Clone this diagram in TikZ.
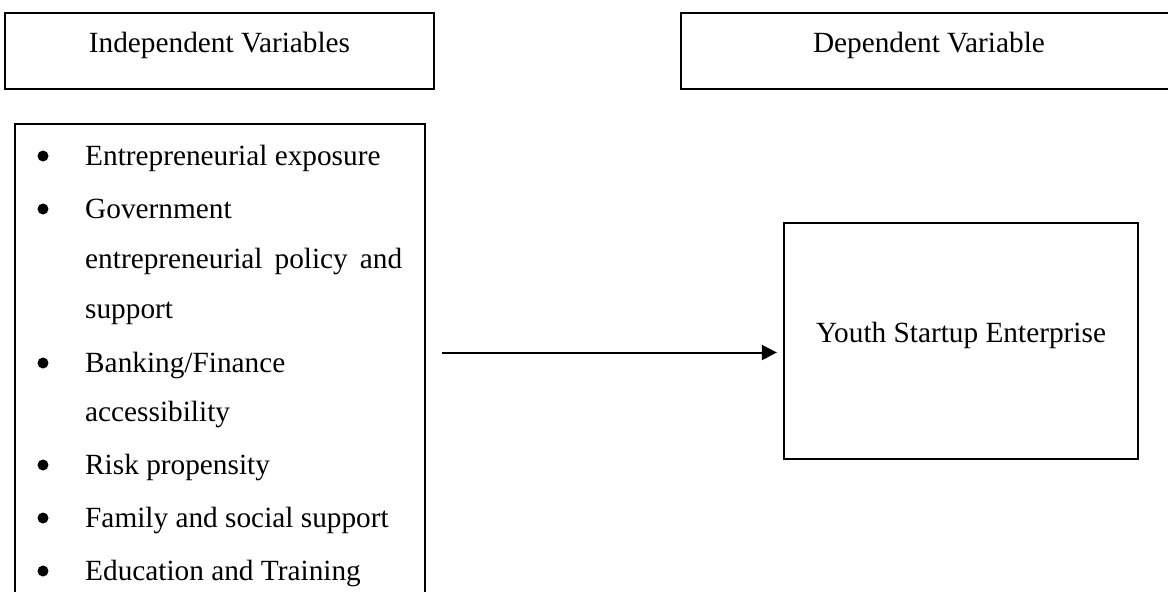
\documentclass[tikz,border=0pt]{standalone}
\usepackage{fontspec}
\setmainfont{Liberation Serif}
\usetikzlibrary{arrows.meta}
\tikzset{
  box/.style={draw=black, line width=2.2pt, rectangle, inner sep=0pt},
  itemtext/.style={anchor=base west, inner sep=0pt, font=\fontsize{29.3}{50}\selectfont},
  bul/.style={circle, fill=black, inner sep=0pt, minimum size=11pt},
  arrowline/.style={line width=2pt, -{Triangle[length=15pt,width=15pt]}},
}
\begin{document}
\begin{tikzpicture}[x=1pt,y=-1pt, font=\fontsize{29.3}{50}\selectfont]
\useasboundingbox (0,0) rectangle (1168,592);
% header boxes
\node[box, minimum width=429pt, text height=39pt, text depth=37pt] (ind) at (219.5,51) {Independent Variables};
\node[box, minimum width=499pt, text height=39pt, text depth=37pt] (dep) at (930.5,51) {\makebox[499pt][l]{\hspace*{132pt}Dependent Variable}};
% list box
\node[box, minimum width=410pt, minimum height=476pt] (list) at (220,362) {};
% bullets
\node[bul] (b1) at (43,156) {};
\node[bul] (b2) at (43,209) {};
\node[bul] (b3) at (43,363) {};
\node[bul] (b4) at (43,465) {};
\node[bul] (b5) at (43,518) {};
\node[bul] (b6) at (43,571) {};
% item texts
\node[itemtext] (t1) at (85,165) {Entrepreneurial exposure};
\node[itemtext] (t2a) at (85,218) {Government};
\node[itemtext] (t2b) at (85,268) {\hbox to 317pt{entrepreneurial\hfil policy\hfil and}};
\node[itemtext] (t2c) at (85,318) {support};
\node[itemtext] (t3a) at (85,372) {Banking/Finance};
\node[itemtext] (t3b) at (85,421) {accessibility};
\node[itemtext] (t4) at (85,474) {Risk propensity};
\node[itemtext] (t5) at (85,527) {Family and social support};
\node[itemtext] (t6) at (85,580) {Education and Training};
% outcome box
\node[box, minimum width=354pt, text height=119pt, text depth=117pt] (ybox) at (961,341) {Youth Startup Enterprise};
% arrow
\draw[arrowline, shorten <=16pt, shorten >=6pt] (list.east |- 0,352.5) -- (ybox.west |- 0,352.5);
\end{tikzpicture}
\end{document}
